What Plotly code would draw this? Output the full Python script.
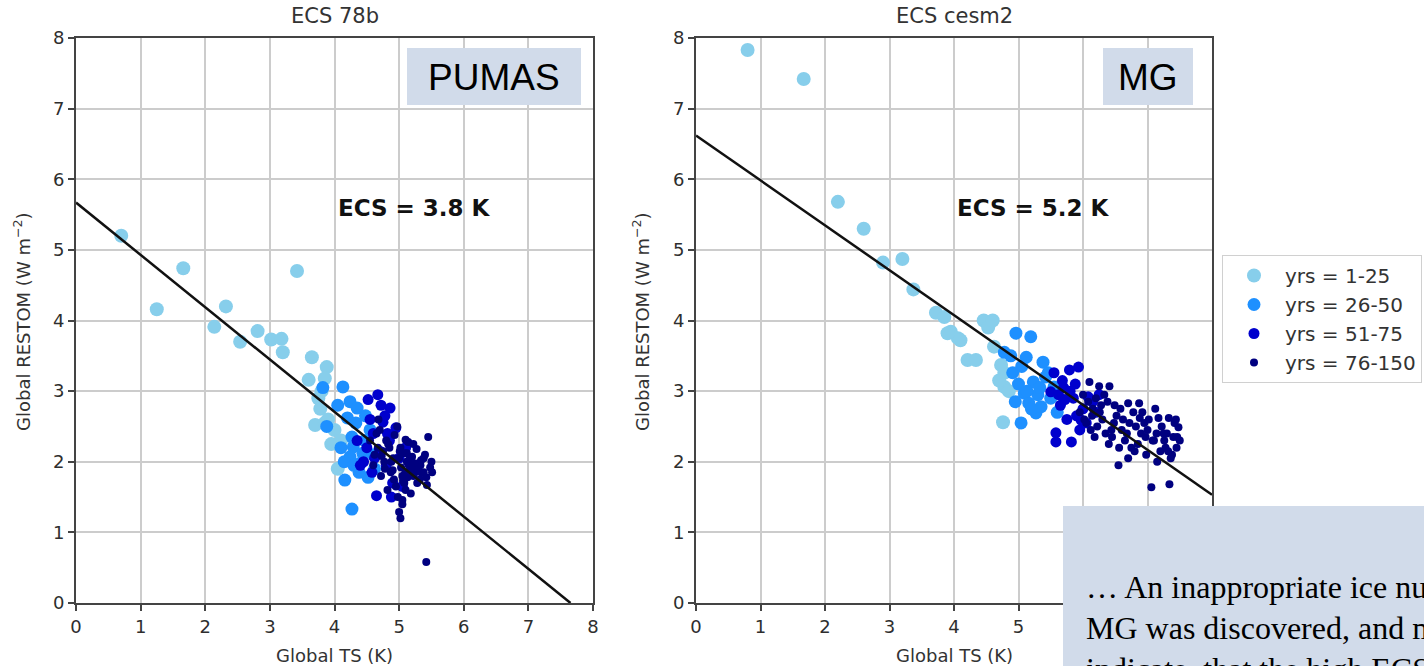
import plotly.graph_objects as go

W, H = 1424, 666

# ---------------- data ----------------
groups = ["yrs = 1-25", "yrs = 26-50", "yrs = 51-75", "yrs = 76-150"]
colors = ["#87CEEB", "#1E90FF", "#0000CD", "#000080"]
sizes = [14, 13, 11, 8]

# PUMAS (ECS 78b)
p_x1 = [0.70, 1.25, 1.66, 2.14, 2.32, 2.54, 2.81, 3.02, 3.18, 3.20, 3.42, 3.65, 3.60, 3.88, 3.85,
        3.80, 3.78, 3.70, 3.85, 4.00, 3.95, 4.05, 3.90, 4.10, 3.75]
p_y1 = [5.20, 4.16, 4.74, 3.91, 4.20, 3.70, 3.85, 3.73, 3.74, 3.55, 4.70, 3.48, 3.16, 3.34, 3.18,
        3.00, 2.75, 2.52, 2.55, 2.45, 2.25, 1.90, 2.60, 2.30, 2.90]
p_x2 = [3.82, 4.13, 4.24, 4.35, 3.88, 4.27, 4.29, 4.24, 4.44, 4.16, 4.52, 4.27, 4.40, 4.55, 4.05,
        4.20, 4.33, 4.47, 4.10, 4.38, 4.60, 4.15, 4.30, 4.48, 4.62]
p_y2 = [3.05, 3.06, 2.85, 2.76, 2.50, 2.35, 2.21, 2.07, 2.12, 1.74, 1.78, 1.33, 1.98, 2.45, 2.80,
        2.62, 2.55, 2.30, 2.20, 1.85, 2.10, 2.00, 1.95, 2.65, 1.90]
p_x3 = [4.52, 4.67, 4.86, 4.60, 4.75, 4.50, 4.95, 4.70, 4.40, 4.85, 4.58, 4.80, 5.00, 4.45, 4.90,
        4.65, 4.78, 5.10, 4.55, 4.88, 4.35, 4.72, 5.05, 4.62, 4.82]
p_y3 = [2.88, 2.95, 2.76, 2.40, 2.56, 2.20, 2.48, 2.15, 1.95, 2.30, 1.85, 1.95, 2.05, 2.00, 1.70,
        1.52, 2.65, 2.20, 2.60, 1.50, 2.30, 2.80, 1.65, 2.05, 2.40]
p_x4 = [4.55, 4.62, 4.70, 4.78, 4.85, 4.92, 5.00, 5.05, 5.10, 5.15,
        5.20, 5.25, 5.30, 5.35, 5.40, 5.45, 5.50, 4.60, 4.68, 4.75,
        4.82, 4.90, 4.97, 5.02, 5.08, 5.12, 5.18, 5.22, 5.28, 5.32,
        5.38, 5.43, 4.65, 4.72, 4.80, 4.88, 4.95, 5.00, 5.05, 5.12,
        5.17, 5.22, 5.27, 5.33, 5.42, 5.05, 5.10, 5.15, 4.83, 4.93,
        5.03, 5.13, 5.23, 5.38, 5.02, 4.98, 5.08, 5.18, 5.28, 5.48,
        4.87, 4.77, 4.67, 5.06, 5.14, 5.24, 5.34, 5.42, 5.51, 4.73,
        4.91, 5.01, 5.09, 5.19, 5.29]
p_y4 = [2.30, 2.10, 2.45, 1.90, 2.20, 1.75, 2.05, 1.40, 2.31, 1.95,
        2.07, 1.85, 1.98, 1.84, 2.10, 2.35, 2.00, 1.95, 2.60, 2.15,
        1.60, 1.88, 2.50, 1.20, 1.70, 2.00, 1.55, 2.25, 1.90, 1.75,
        2.05, 1.67, 2.40, 1.80, 2.30, 2.00, 1.65, 1.29, 1.46, 2.12,
        1.90, 1.80, 2.18, 1.95, 0.58, 1.80, 1.60, 2.02, 2.25, 2.38,
        1.92, 1.78, 1.98, 1.85, 2.20, 1.50, 2.12, 1.88, 1.70, 1.92,
        1.85, 2.00, 2.20, 1.73, 2.28, 1.92, 2.02, 1.78, 1.85, 2.08,
        2.05, 2.15, 1.83, 1.95, 1.88]

# MG (ECS cesm2)
m_x1 = [0.80, 1.67, 2.20, 2.60, 2.90, 3.20, 3.37, 3.72, 3.85, 3.95, 4.06, 3.90, 4.21, 4.34, 4.46,
        4.53, 4.60, 4.62, 4.73, 4.78, 4.78, 4.76, 4.70, 4.85, 4.10]
m_y1 = [7.83, 7.42, 5.68, 5.30, 4.82, 4.87, 4.44, 4.11, 4.05, 3.84, 3.75, 3.82, 3.44, 3.44, 4.00,
        3.90, 4.00, 3.63, 3.37, 3.26, 3.06, 2.56, 3.15, 3.00, 3.72]
m_x2 = [4.96, 5.19, 4.78, 5.12, 5.38, 4.91, 5.23, 5.09, 5.16, 5.27, 5.04, 5.46, 5.55, 5.35, 4.88,
        5.00, 5.30, 5.42, 5.20, 5.05, 5.50, 4.95, 5.33, 5.13, 5.60]
m_y2 = [3.82, 3.77, 3.55, 3.48, 3.41, 3.26, 3.13, 2.97, 2.83, 2.69, 2.55, 3.26, 3.06, 2.78, 3.50,
        3.10, 2.95, 3.20, 2.75, 3.35, 2.90, 2.85, 3.05, 3.00, 2.70]
m_x3 = [5.55, 5.79, 5.93, 5.50, 5.58, 5.58, 5.82, 5.97, 6.08, 5.70, 5.65, 5.88, 6.00, 5.75, 5.62,
        6.15, 5.85, 5.95, 6.20, 5.72, 5.68, 6.05, 5.90, 5.80, 6.25]
m_y3 = [3.26, 3.30, 3.34, 2.99, 2.41, 2.28, 2.28, 2.59, 2.92, 3.05, 2.80, 3.10, 2.75, 2.60, 2.95,
        2.85, 2.90, 2.45, 2.70, 2.88, 3.15, 2.55, 2.65, 3.00, 2.95]
m_x4 = [6.10, 6.25, 6.41, 6.49, 6.70, 6.87, 7.06, 7.34, 7.48, 7.45,
        6.55, 6.70, 7.17, 7.33, 6.00, 6.15, 6.30, 6.38, 6.60, 6.78,
        6.95, 7.10, 7.25, 7.40, 6.05, 6.20, 6.35, 6.52, 6.65, 6.82,
        6.98, 7.12, 7.28, 7.42, 5.95, 6.12, 6.28, 6.45, 6.62, 6.75,
        6.90, 7.02, 7.20, 7.36, 7.50, 6.08, 6.22, 6.40, 6.58, 6.72,
        6.85, 7.00, 7.15, 7.30, 7.44, 6.18, 6.33, 6.48, 6.68, 6.92,
        7.08, 7.22, 7.38, 6.02, 6.26, 6.44, 6.80, 6.97, 7.26, 7.46,
        6.14, 6.56, 6.88, 7.14, 7.32]
m_y4 = [3.13, 3.07, 3.07, 2.80, 2.83, 2.83, 1.64, 1.68, 2.49, 2.20,
        1.95, 2.05, 2.62, 2.62, 2.95, 2.75, 2.60, 2.85, 2.45, 2.70,
        2.55, 2.30, 2.40, 2.35, 2.55, 2.90, 2.40, 2.65, 2.30, 2.50,
        2.10, 2.75, 2.20, 2.55, 2.70, 2.45, 2.80, 2.35, 2.60, 2.20,
        2.40, 2.60, 2.15, 2.05, 2.30, 2.85, 2.50, 2.25, 2.75, 2.55,
        2.25, 2.45, 2.00, 2.40, 2.60, 2.35, 2.95, 2.55, 2.40, 2.70,
        2.30, 2.50, 2.10, 2.60, 2.70, 2.45, 2.15, 2.35, 2.30, 2.35,
        2.65, 2.20, 2.62, 2.40, 2.15]

# Gregory regression fits (intercept, slope) and ECS labels
fit_intercept = [5.67, 6.62]
fit_slope = [-0.741, -0.636]
ecs_labels = ["ECS = 3.8 K", "ECS = 5.2 K"]
panel_titles = ["ECS 78b", "ECS cesm2"]
scheme_labels = ["PUMAS", "MG"]
axis_ticks = [0, 1, 2, 3, 4, 5, 6, 7, 8]
note_text = ["\u2026 An inappropriate ice nu",
             "MG was discovered, and m",
             "indicate  that the high ECS"]

panels = [
    [(p_x1, p_y1), (p_x2, p_y2), (p_x3, p_y3), (p_x4, p_y4)],
    [(m_x1, m_y1), (m_x2, m_y2), (m_x3, m_y3), (m_x4, m_y4)],
]

# ---------------- figure ----------------
def px(x):
    return x / W

def py(y):
    return 1 - y / H

dom_x = [[px(76), px(593)], [px(696), px(1212)]]
dom_y = [py(603), py(38)]

fig = go.Figure()
for pi, panel in enumerate(panels):
    xa = "x" if pi == 0 else "x2"
    ya = "y" if pi == 0 else "y2"
    for gi, (xs, ys) in enumerate(panel):
        fig.add_trace(go.Scatter(
            x=xs, y=ys, mode="markers", xaxis=xa, yaxis=ya,
            name=groups[gi], showlegend=(pi == 1),
            marker=dict(color=colors[gi], size=sizes[gi], line=dict(width=0)),
        ))
    # regression line clipped to axes range
    b, m = fit_intercept[pi], fit_slope[pi]
    x_end = min(8.0, -b / m)
    fig.add_trace(go.Scatter(
        x=[0, x_end], y=[b, b + m * x_end], mode="lines", xaxis=xa, yaxis=ya,
        line=dict(color="#111111", width=2.5), showlegend=False, hoverinfo="skip",
    ))

axis_common = dict(
    range=[0, 8], tickvals=axis_ticks, ticks="outside", ticklen=6, tickwidth=1.5,
    tickcolor="#444444", showline=True, linecolor="#444444", linewidth=2,
    mirror=True, showgrid=True, gridcolor="#cccccc", gridwidth=1.5,
    zeroline=False, tickfont=dict(family="DejaVu Sans", size=18, color="#2e2e2e"),
    fixedrange=True, automargin=False,
)

fig.update_layout(
    width=W, height=H, margin=dict(l=0, r=0, t=0, b=0, autoexpand=False),
    paper_bgcolor="white", plot_bgcolor="white",
    xaxis=dict(domain=dom_x[0], anchor="y", **axis_common),
    yaxis=dict(domain=dom_y, anchor="x", **axis_common),
    xaxis2=dict(domain=dom_x[1], anchor="y2", **axis_common),
    yaxis2=dict(domain=dom_y, anchor="x2", **axis_common),
    showlegend=True,
    legend=dict(
        x=px(1222), y=py(255), xanchor="left", yanchor="top",
        bgcolor="white", bordercolor="#d0d0d0", borderwidth=1,
        font=dict(family="DejaVu Sans", size=20, color="#333333"),
        itemsizing="trace", tracegroupgap=4, itemwidth=52,
    ),
)

annotations = []
centers = [(76 + 593) / 2, (696 + 1212) / 2]
ylab_x = [22, 641]
ecs_x = [414, 1033]
for pi in range(2):
    annotations.append(dict(
        text=panel_titles[pi], x=px(centers[pi]), y=py(16), xref="paper", yref="paper",
        showarrow=False, xanchor="center", yanchor="middle",
        font=dict(family="DejaVu Sans", size=21, color="#333333"),
    ))
    annotations.append(dict(
        text="Global TS (K)", x=px(centers[pi]), y=py(655), xref="paper", yref="paper",
        showarrow=False, xanchor="center", yanchor="middle",
        font=dict(family="DejaVu Sans", size=18, color="#333333"),
    ))
    annotations.append(dict(
        text="Global RESTOM (W m<sup>\u22122</sup>)", x=px(ylab_x[pi]), y=py(322),
        xref="paper", yref="paper", showarrow=False, textangle=-90,
        xanchor="center", yanchor="middle",
        font=dict(family="DejaVu Sans", size=18, color="#333333"),
    ))
    annotations.append(dict(
        text="<b>" + ecs_labels[pi] + "</b>", x=px(ecs_x[pi]), y=py(208),
        xref="paper", yref="paper", showarrow=False, xanchor="center", yanchor="middle",
        font=dict(family="DejaVu Sans", size=23, color="#111111"),
    ))

# label boxes
label_boxes = [(407, 581), (1103, 1193)]
shapes = []
for pi, (x0, x1) in enumerate(label_boxes):
    shapes.append(dict(type="rect", xref="paper", yref="paper",
                       x0=px(x0), x1=px(x1), y0=py(105), y1=py(48),
                       fillcolor="#d1dbea", line=dict(width=0), layer="above"))
    annotations.append(dict(
        text=scheme_labels[pi], x=px((x0 + x1) / 2), y=py(77), xref="paper", yref="paper",
        showarrow=False, xanchor="center", yanchor="middle",
        font=dict(family="Liberation Sans", size=37, color="black"),
    ))

# note box
shapes.append(dict(type="rect", xref="paper", yref="paper",
                   x0=px(1063), x1=1.0, y0=0, y1=py(506),
                   fillcolor="#d1dbea", line=dict(width=0), layer="above"))
for i, line in enumerate(note_text):
    annotations.append(dict(
        text=line, x=px(1084), y=py(587 + 41 * i), xref="paper", yref="paper",
        showarrow=False, xanchor="left", yanchor="middle", align="left",
        font=dict(family="Liberation Serif", size=32, color="black"),
    ))

fig.update_layout(annotations=annotations, shapes=shapes)
fig.write_html("out.html")
